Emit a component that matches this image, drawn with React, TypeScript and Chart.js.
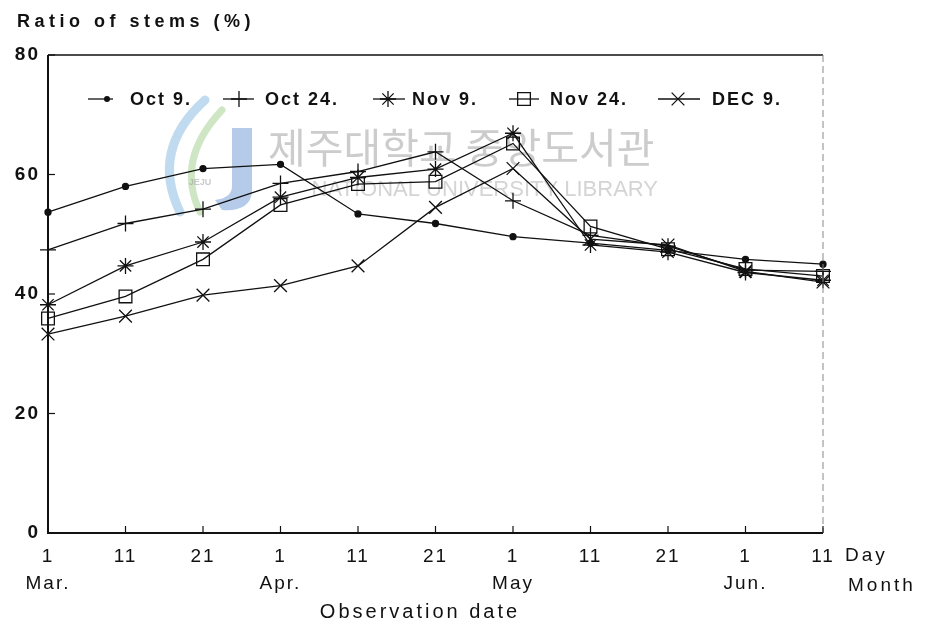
import React, { useEffect, useRef } from "react";
import { Chart, registerables } from "chart.js";

Chart.register(...registerables);

// ---------- data ----------
const dayLabels = ["1", "11", "21", "1", "11", "21", "1", "11", "21", "1", "11"];
const monthLabels = ["Mar.", "", "", "Apr.", "", "", "May", "", "", "Jun.", ""];
const seriesNames = ["Oct 9.", "Oct 24.", "Nov 9.", "Nov 24.", "DEC 9."];
const oct9 = [53.7, 58.0, 61.0, 61.7, 53.4, 51.8, 49.6, 48.5, 47.3, 45.8, 45.0];
const oct24 = [47.4, 51.8, 54.2, 58.5, 60.5, 63.8, 55.6, 49.8, 48.0, 44.0, 43.8];
const nov9 = [38.2, 44.7, 48.7, 56.2, 59.5, 60.9, 66.9, 48.2, 47.0, 43.6, 42.3];
const nov24 = [35.9, 39.6, 45.8, 54.9, 58.4, 58.8, 65.2, 51.3, 47.5, 44.2, 43.0];
const dec9 = [33.3, 36.3, 39.8, 41.4, 44.7, 54.5, 61.0, 49.2, 48.2, 43.8, 42.0];
const yTicks = [0, 20, 40, 60, 80];
const titleText = "Ratio of stems (%)";
const xTitleText = "Observation date";
const dayUnit = "Day";
const monthUnit = "Month";
const watermarkKo = "제주대학교 중앙도서관";
const watermarkEn = "NATIONAL UNIVERSITY LIBRARY";

const seriesValues = [oct9, oct24, nov9, nov24, dec9];
const markerStyles = ["circle", "cross", "star", "rect", "crossRot"];
const markerRadius = [3, 8, 8, 9, 9];

const INK = "#111";
const SANS = "'Liberation Sans', Arial, sans-serif";

function drawMarker(ctx: CanvasRenderingContext2D, style: string, x: number, y: number, r: number) {
  ctx.beginPath();
  const d = r * Math.SQRT1_2;
  if (style === "circle") {
    ctx.arc(x, y, r, 0, Math.PI * 2);
    ctx.fill();
    return;
  }
  if (style === "cross" || style === "star") {
    ctx.moveTo(x - r, y);
    ctx.lineTo(x + r, y);
    ctx.moveTo(x, y - r);
    ctx.lineTo(x, y + r);
  }
  if (style === "crossRot" || style === "star") {
    ctx.moveTo(x - d, y - d);
    ctx.lineTo(x + d, y + d);
    ctx.moveTo(x - d, y + d);
    ctx.lineTo(x + d, y - d);
  }
  if (style === "rect") {
    ctx.rect(x - d, y - d, 2 * d, 2 * d);
  }
  ctx.stroke();
}

const overlay = {
  id: "overlay",
  beforeDraw(chart: any) {
    const ctx = chart.ctx as any;
    ctx.letterSpacing = "2px";
  },
  beforeDatasetsDraw(chart: any) {
    const ctx: CanvasRenderingContext2D = chart.ctx;
    ctx.save();
    (ctx as any).letterSpacing = "0px";
    // logo swooshes
    ctx.lineCap = "round";
    ctx.strokeStyle = "rgba(140,190,225,0.55)";
    ctx.lineWidth = 9;
    ctx.beginPath();
    ctx.moveTo(205, 100);
    ctx.quadraticCurveTo(150, 150, 180, 212);
    ctx.stroke();
    ctx.strokeStyle = "rgba(160,205,140,0.5)";
    ctx.lineWidth = 7;
    ctx.beginPath();
    ctx.moveTo(222, 110);
    ctx.quadraticCurveTo(175, 160, 200, 212);
    ctx.stroke();
    ctx.fillStyle = "rgba(120,160,215,0.55)";
    ctx.beginPath();
    ctx.moveTo(232, 128);
    ctx.lineTo(252, 128);
    ctx.lineTo(252, 192);
    ctx.quadraticCurveTo(250, 212, 222, 210);
    ctx.lineTo(215, 200);
    ctx.quadraticCurveTo(232, 198, 232, 186);
    ctx.closePath();
    ctx.fill();
    ctx.fillStyle = "rgba(150,150,150,0.5)";
    ctx.font = `bold 9px ${SANS}`;
    ctx.textAlign = "center";
    ctx.textBaseline = "middle";
    ctx.fillText("JEJU", 200, 183);
    // text watermark
    ctx.fillStyle = "#cccccc";
    ctx.font = `41px 'Noto Sans CJK KR', sans-serif`;
    ctx.textAlign = "left";
    ctx.fillText(watermarkKo, 268, 147);
    ctx.fillStyle = "#d4d4d4";
    ctx.font = `22px ${SANS}`;
    ctx.textAlign = "right";
    ctx.fillText(watermarkEn, 658, 190);
    ctx.restore();
  },
  afterDraw(chart: any) {
    const ctx: CanvasRenderingContext2D = chart.ctx;
    const a = chart.chartArea;
    const xs = chart.scales.x;
    const ys = chart.scales.y;
    ctx.save();
    // frame
    ctx.strokeStyle = INK;
    ctx.lineWidth = 1.5;
    ctx.beginPath();
    ctx.moveTo(a.left, a.top);
    ctx.lineTo(a.right, a.top);
    ctx.stroke();
    ctx.lineWidth = 2;
    ctx.beginPath();
    ctx.moveTo(a.left, a.top);
    ctx.lineTo(a.left, a.bottom);
    ctx.lineTo(a.right, a.bottom);
    ctx.stroke();
    ctx.setLineDash([7, 4]);
    ctx.strokeStyle = "#888";
    ctx.lineWidth = 1;
    ctx.beginPath();
    ctx.moveTo(a.right, a.top);
    ctx.lineTo(a.right, a.bottom);
    ctx.stroke();
    ctx.setLineDash([]);
    // inward ticks
    ctx.strokeStyle = INK;
    ctx.lineWidth = 1.2;
    yTicks.forEach((v) => {
      const py = ys.getPixelForValue(v);
      ctx.beginPath();
      ctx.moveTo(a.left, py);
      ctx.lineTo(a.left + 7, py);
      ctx.stroke();
    });
    dayLabels.forEach((_, i) => {
      const px = xs.getPixelForValue(i);
      ctx.beginPath();
      ctx.moveTo(px, a.bottom);
      ctx.lineTo(px, a.bottom - 7);
      ctx.stroke();
    });
    // legend
    const legLine = [[88, 113], [223, 254], [373, 405], [509, 539], [658, 700]];
    const legMark = [107, 239, 388, 524, 678];
    const legText = [130, 265, 412, 550, 712];
    const legY = 99;
    ctx.fillStyle = INK;
    ctx.strokeStyle = INK;
    seriesNames.forEach((name, i) => {
      ctx.lineWidth = 1.3;
      ctx.beginPath();
      ctx.moveTo(legLine[i][0], legY);
      ctx.lineTo(legLine[i][1], legY);
      ctx.stroke();
      drawMarker(ctx, markerStyles[i], legMark[i], legY, markerRadius[i]);
      (ctx as any).letterSpacing = "2px";
      ctx.font = `bold 18px ${SANS}`;
      ctx.textAlign = "left";
      ctx.textBaseline = "middle";
      ctx.fillText(name, legText[i], legY + 1);
    });
    // title
    (ctx as any).letterSpacing = "4.5px";
    ctx.font = `bold 18px ${SANS}`;
    ctx.textAlign = "left";
    ctx.textBaseline = "middle";
    ctx.fillText(titleText, 17, 22);
    // units & axis title
    (ctx as any).letterSpacing = "3px";
    ctx.font = `19px ${SANS}`;
    ctx.fillText(dayUnit, 845, 556);
    ctx.fillText(monthUnit, 848, 586);
    ctx.font = `20px ${SANS}`;
    ctx.textAlign = "center";
    ctx.fillText(xTitleText, 420, 612);
    ctx.restore();
  },
};

export default function App() {
  const ref = useRef<HTMLCanvasElement | null>(null);
  useEffect(() => {
    if (!ref.current) return;
    const datasets = seriesNames.map((name, i) => ({
      label: name,
      data: seriesValues[i],
      borderColor: INK,
      backgroundColor: INK,
      borderWidth: 1.3,
      pointStyle: markerStyles[i] as any,
      pointRadius: markerRadius[i],
      pointBorderColor: INK,
      pointBorderWidth: 1.3,
      pointBackgroundColor: markerStyles[i] === "circle" ? INK : "rgba(0,0,0,0)",
      tension: 0,
    }));
    const chart = new Chart(ref.current, {
      type: "line",
      data: {
        labels: dayLabels.map((d, i) => [d, monthLabels[i]]),
        datasets,
      },
      options: {
        animation: false,
        responsive: true,
        maintainAspectRatio: false,
        layout: { padding: { left: 0, right: 105, top: 55, bottom: 0 } },
        plugins: { legend: { display: false }, tooltip: { enabled: false }, title: { display: false } },
        scales: {
          x: {
            type: "category",
            offset: false,
            grid: { display: false, drawTicks: false },
            border: { display: false },
            ticks: {
              color: INK,
              font: { family: SANS, size: 19, lineHeight: 1.42 },
              padding: 10,
              maxRotation: 0,
              autoSkip: false,
            },
            afterFit: (s: any) => {
              s.height = 95;
            },
          },
          y: {
            min: 0,
            max: 80,
            grid: { display: false, drawTicks: false },
            border: { display: false },
            ticks: {
              stepSize: 20,
              color: INK,
              font: { family: SANS, size: 19, weight: "bold" },
              padding: 8,
            },
            afterFit: (s: any) => {
              s.width = 48;
            },
          },
        },
      },
      plugins: [overlay],
    });
    return () => chart.destroy();
  }, []);
  return (
    <div style={{ position: "fixed", left: 0, top: 0, width: 928, height: 628, background: "#fff" }}>
      <canvas ref={ref} />
    </div>
  );
}
